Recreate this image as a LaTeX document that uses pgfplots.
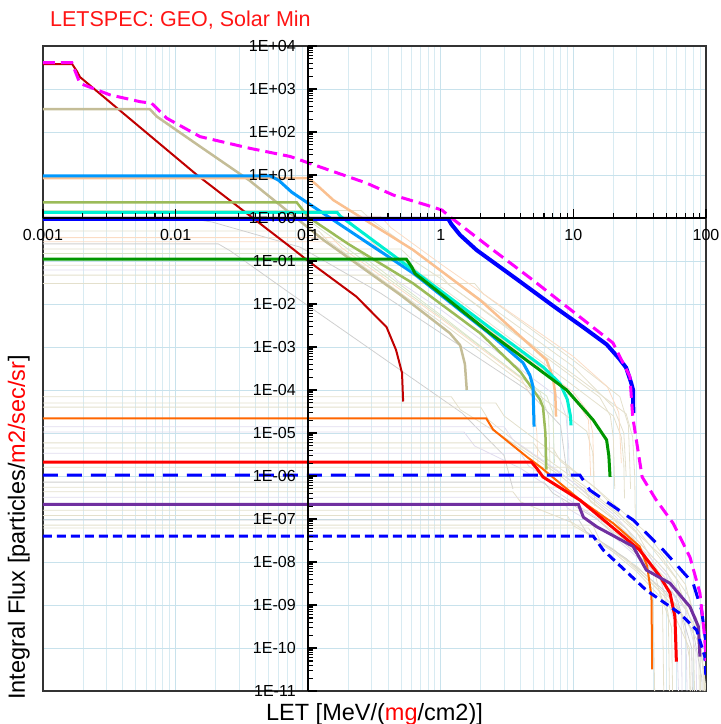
\documentclass[border=0pt]{standalone}
\usepackage{fontspec}
\setmainfont{Liberation Sans}
\usepackage{pgfplots}
\pgfplotsset{compat=1.18}

% grid and frame
\definecolor{gridblue}{RGB}{200,226,236}
\definecolor{gridbluelight}{RGB}{216,235,242}
% background spectra
\definecolor{ghbeige}{RGB}{228,224,204}
\definecolor{ghlav}{RGB}{224,220,238}
\definecolor{ghpeach}{RGB}{251,220,196}
\definecolor{ghgray}{RGB}{208,208,208}
\definecolor{gholive}{RGB}{218,228,200}
% highlighted spectra
\definecolor{cmag}{RGB}{255,0,255}
\definecolor{cblue}{RGB}{0,0,255}
\definecolor{cltblue}{RGB}{0,153,255}
\definecolor{ccyan}{RGB}{0,240,210}
\definecolor{cgreen}{RGB}{0,150,0}
\definecolor{colive}{RGB}{155,187,89}
\definecolor{ctan}{RGB}{196,189,151}
\definecolor{cpeach}{RGB}{250,192,144}
\definecolor{cdkred}{RGB}{192,0,0}
\definecolor{corange}{RGB}{255,102,0}
\definecolor{cred}{RGB}{255,0,0}
\definecolor{cpurple}{RGB}{112,48,160}
\definecolor{titlered}{RGB}{255,20,20}

\pgfplotsset{
  ghost/.style={line width=0.8pt},
}
% tick label helpers: x labels set lower, y labels kept clear of the axis
\newcommand{\xl}[1]{\rule{0pt}{19pt}#1}
\newcommand{\yl}[1]{#1\kern9pt}

\begin{document}
\begin{tikzpicture}
% ---------------- data layer: grid, frame, spectra ----------------
\begin{axis}[
  at={(0,0)}, anchor=south west,
  scale only axis, width=663pt, height=645pt,
  xmode=log, ymode=log,
  xmin=1e-3, xmax=100, ymin=1e-11, ymax=1e4,
  xtick={1e-3,1e-2,1e-1,1,10,100},
  minor xtick={0.002,0.003,0.004,0.005,0.006,0.007,0.008,0.009,
               0.02,0.03,0.04,0.05,0.06,0.07,0.08,0.09,
               0.2,0.3,0.4,0.5,0.6,0.7,0.8,0.9,
               2,3,4,5,6,7,8,9,20,30,40,50,60,70,80,90},
  ytick={1e-11,1e-10,1e-9,1e-8,1e-7,1e-6,1e-5,1e-4,1e-3,1e-2,1e-1,1,10,100,1000,10000},
  xticklabels={}, yticklabels={},
  major tick length=0pt, minor tick length=0pt,
  xmajorgrids, xminorgrids, ymajorgrids,
  major grid style={gridblue, line width=0.8pt},
  minor grid style={gridbluelight, line width=0.7pt},
  axis line style={black!80, line width=1.6pt},
]
\coordinate (BL) at (rel axis cs:0,0);
\coordinate (TR) at (rel axis cs:1,1);
\coordinate (TL) at (rel axis cs:0,1);
\coordinate (BC) at (rel axis cs:0.5,0);

% background spectra, upper group
\addplot[ghost, ghpeach] coordinates {(0.001,0.28)(0.3,0.28)(0.36,0.17)(1,0.018)(5,4.4e-4)(10,8.9e-5)(13,3e-5)(14,1e-5)(14.3,1e-6)};
\addplot[ghost, ghbeige] coordinates {(0.001,0.19)(0.5,0.19)(0.6,0.11)(1,0.039)(6.3,5.6e-4)(15.8,6.8e-5)(19,2.5e-5)(20,8e-6)(20.5,5e-7)};
\addplot[ghost, ghbeige] coordinates {(0.001,0.08)(0.6,0.08)(0.7,0.05)(1,0.025)(10,1.26e-4)(20,2.5e-5)(23,8e-6)(24,2e-6)(24.3,3e-7)};
\addplot[ghost, ghlav] coordinates {(0.001,0.062)(0.4,0.062)(0.47,0.035)(1,7.4e-3)(7.9,6.3e-5)(8.8,2.5e-5)(9.2,5e-6)(9.3,1e-6)};
\addplot[ghost, ghbeige] coordinates {(0.001,0.047)(1,0.047)(1.15,0.028)(10,2.3e-4)(25,2.8e-5)(28,8e-6)(29,1e-6)(29.3,1e-7)};
\addplot[ghost, ghpeach] coordinates {(0.001,0.35)(0.15,0.35)(0.18,0.2)(1,4.6e-3)(4,1.9e-4)(5,6e-5)(5.3,1e-5)(5.4,2e-6)};
\addplot[ghost, ghbeige] coordinates {(0.001,0.5)(0.12,0.5)(0.14,0.3)(1,3.8e-3)(10,1.9e-5)(12.6,1.1e-5)(14,3.5e-6)(14.5,2e-7)};
\addplot[ghost, gholive] coordinates {(0.001,1.3)(0.09,1.3)(0.1,0.9)(1,5e-3)(6.3,7.2e-5)(7,3e-5)(7.2,2e-6)};
\addplot[ghost, gholive] coordinates {(0.001,0.15)(0.25,0.15)(0.3,0.09)(1,5.5e-3)(3.16,3.5e-4)(5.6,8.7e-5)(6.5,2.5e-5)(6.7,1e-6)};
\addplot[ghost, ghpeach] coordinates {(0.001,0.9)(0.2,0.9)(0.24,0.55)(1,0.019)(10,7.4e-5)(13,2e-5)(13.5,1e-6)};
\addplot[ghost, ghbeige] coordinates {(0.001,0.03)(1.8,0.03)(2.1,0.017)(10,4.9e-4)(22.4,7e-5)(26,1.5e-5)(27,5e-7)};
\addplot[ghost, ghbeige] coordinates {(0.001,1.5)(0.25,1.5)(0.3,0.9)(1,0.06)(10,3.5e-4)(20,4e-5)(24,1e-5)(25,1e-6)};
\addplot[ghost, ghpeach] coordinates {(0.001,1.1)(0.35,1.1)(0.42,0.6)(1,0.085)(10,6e-4)(18,1.2e-4)(22,3e-5)(23,2e-6)};
\addplot[ghost, ghgray] coordinates {(0.001,0.25)(0.021,0.25)(0.026,0.17)(0.073,0.0178)(1.45,2.9e-5)(3,3e-6)(3.5,5e-7)};
\addplot[ghost, ghgray] coordinates {(0.001,0.9)(0.015,0.9)(0.019,0.8)(0.087,0.21)(0.35,0.018)(4.47,1e-4)(8,1.5e-5)(9,1e-6)};

% background spectra, lower group
\addplot[ghost, ghbeige] coordinates {(0.001,7e-5)(1.2,7e-5)(1.4,3.5e-5)(3,8e-6)(8,1e-6)(20,1e-7)(35,1.5e-8)(40,1e-9)(41,1e-11)};
\addplot[ghost, ghbeige] coordinates {(0.001,5e-5)(2.6,5e-5)(3,2.5e-5)(6,5e-6)(15,5e-7)(30,5e-8)(45,5e-9)(52,6e-10)(53,1e-11)};
\addplot[ghost, ghbeige] coordinates {(0.001,4e-5)(2.0,4e-5)(2.3,2e-5)(4,5e-6)(10,7e-7)(25,6e-8)(40,8e-9)(47,1e-9)(48,1e-11)};
\addplot[ghost, ghlav] coordinates {(0.001,1.4e-5)(3,1.4e-5)(3.5,7e-6)(8,1.2e-6)(20,1.3e-7)(50,6e-9)(70,8e-10)(72,1e-11)};
\addplot[ghost, ghlav] coordinates {(0.001,1.05e-5)(1.5,1.05e-5)(1.8,5e-6)(4,1.5e-6)(10,2.4e-7)(30,2.7e-8)(45,4e-9)(60,3e-10)(62,1e-11)};
\addplot[ghost, ghbeige] coordinates {(0.001,5.9e-6)(5,5.9e-6)(5.8,3e-6)(12,6e-7)(30,6e-8)(60,4e-9)(80,3e-10)(82,1e-11)};
\addplot[ghost, ghbeige] coordinates {(0.001,4.5e-6)(7,4.5e-6)(8,2.2e-6)(15,5e-7)(35,5e-8)(70,3e-9)(90,1.5e-10)(91,1e-11)};
\addplot[ghost, ghlav] coordinates {(0.001,3.4e-6)(4,3.4e-6)(4.6,1.7e-6)(10,3.5e-7)(25,5e-8)(50,5e-9)(65,6e-10)(66,1e-11)};
\addplot[ghost, ghbeige] coordinates {(0.001,1.6e-6)(9,1.6e-6)(10,8e-7)(20,1.5e-7)(45,1.5e-8)(75,1.5e-9)(88,2e-10)(89,1e-11)};
\addplot[ghost, ghgray] coordinates {(0.001,7.2e-7)(6,7.2e-7)(7,4e-7)(15,1e-7)(35,1e-8)(60,1.5e-9)(78,1e-10)(79,1e-11)};
\addplot[ghost, ghbeige] coordinates {(0.001,5.5e-7)(12,5.5e-7)(13.5,2.5e-7)(25,6e-8)(50,6e-9)(85,5e-10)(95,3e-11)(95.5,1e-11)};
\addplot[ghost, ghbeige] coordinates {(0.001,4.3e-7)(3.5,4.3e-7)(4,2.5e-7)(10,8e-8)(25,1.2e-8)(45,2e-9)(55,3e-10)(56,1e-11)};
\addplot[ghost, ghlav] coordinates {(0.001,3.2e-7)(8,3.2e-7)(9,1.8e-7)(20,4e-8)(40,6e-9)(70,8e-10)(84,8e-11)(85,1e-11)};
\addplot[ghost, ghbeige] coordinates {(0.001,1.6e-7)(15,1.6e-7)(16.5,8e-8)(30,2e-8)(55,3e-9)(90,2e-10)(97,2e-11)(97.5,1e-11)};
\addplot[ghost, ghbeige] coordinates {(0.001,1.2e-7)(9,1.2e-7)(10,7e-8)(20,2e-8)(40,3e-9)(65,6e-10)(75,6e-11)(76,1e-11)};
\addplot[ghost, ghgray] coordinates {(0.001,9.5e-8)(11,9.5e-8)(12.5,5e-8)(25,1.2e-8)(50,2e-9)(80,2.5e-10)(93,2e-11)(93.5,1e-11)};
\addplot[ghost, ghbeige] coordinates {(0.001,7.2e-8)(14,7.2e-8)(16,3e-8)(30,6e-9)(55,8e-10)(75,1e-10)(76,1e-11)};
\addplot[ghost, ghbeige] coordinates {(0.001,6.2e-8)(13,6.2e-8)(15,3e-8)(30,8e-9)(60,1e-9)(90,1.2e-10)(99,1.5e-11)(99.5,1e-11)};

% highlighted spectra
\addplot[cdkred, line width=2pt] coordinates {(0.001,3800)(0.00166,3800)(0.0018,2600)(0.0019,1900)(0.0145,10)(0.073,0.215)(0.1,0.1)(0.23,0.015)(0.39,2.9e-3)(0.46,8.5e-4)(0.51,2.5e-4)(0.52,5.4e-5)};
\addplot[ctan, line width=2.5pt] coordinates {(0.001,339)(0.0064,339)(0.0072,230)(0.0153,46)(0.036,7.5)(0.13,0.31)(0.5,0.016)(1.17,2.1e-3)(1.4,1.1e-3)(1.52,4e-4)(1.57,1e-4)};
\addplot[colive, line width=2.5pt] coordinates {(0.001,2.3)(0.082,2.3)(0.09,1.6)(0.1,1.05)(0.2,0.25)(0.62,0.03)(1.98,2.1e-3)(4,2.6e-4)(5.6,6e-5)(5.9,4e-5)(6.15,1e-5)(6.25,1.4e-6)};
\addplot[cpeach, line width=2.5pt] coordinates {(0.001,8.5)(0.1,8.5)(0.115,6)(0.155,2.6)(0.62,0.18)(2.0,0.012)(6.27,5e-4)(7.0,2e-4)(7.3,8e-5)(7.4,2.4e-5)};
\addplot[cltblue, line width=3pt] coordinates {(0.001,9.5)(0.052,9.5)(0.06,7.5)(0.075,4.0)(0.1,2.2)(0.3,0.23)(0.62,0.052)(2.35,2.0e-3)(4.17,4.3e-4)(4.7,2.2e-4)(4.96,1.2e-4)(5.05,1.4e-5)};
\addplot[ccyan, line width=3pt] coordinates {(0.001,1.36)(0.165,1.36)(0.175,1.1)(0.5,0.1)(2.35,2.8e-3)(6,3.3e-4)(7.95,1.4e-4)(9.0,6e-5)(9.5,2.5e-5)(9.6,1.5e-5)};
\addplot[cgreen, line width=3pt] coordinates {(0.001,0.11)(0.55,0.11)(0.6,0.075)(0.64,0.051)(0.99,0.0178)(2.35,2.1e-3)(8.9,1e-4)(14.1,2e-5)(17.8,6.9e-6)(18.5,3e-6)(18.9,9.5e-7)};
\addplot[corange, line width=2pt] coordinates {(0.001,2.2e-5)(2.2,2.2e-5)(2.48,1.2e-5)(3.1,6.9e-6)(4.45,2.8e-6)(5.6,1.65e-6)(11.2,2.8e-7)(20,7.9e-8)(31.6,2.3e-8)(36,8e-9)(38.8,1.6e-9)(39.3,3.2e-11)};
\addplot[cred, line width=3pt] coordinates {(0.001,2.1e-6)(4.84,2.1e-6)(5.3,1.5e-6)(5.9,9.5e-7)(11.2,2.75e-7)(31.6,1.9e-8)(45,4.6e-9)(53.5,1.9e-9)(58.3,5.4e-10)(59.8,4.8e-11)};
\addplot[cpurple, line width=3pt] coordinates {(0.001,2.2e-7)(10.9,2.2e-7)(11.9,1.1e-7)(15,6.6e-8)(28.2,2.3e-8)(35.5,6.5e-9)(53.5,3.2e-9)(75.7,9.1e-10)(87.5,3.2e-10)(90,6.3e-11)};
\addplot[cblue, line width=3pt, dash pattern=on 15pt off 9pt] coordinates {(0.001,1.05e-6)(11.2,1.05e-6)(13.3,4.7e-7)(28.2,9.5e-8)(47.6,1.9e-8)(80,3.2e-9)(92.7,7.5e-10)(100,1.25e-10)};
\addplot[cblue, line width=3pt, dash pattern=on 9pt off 5pt] coordinates {(0.001,4e-8)(14.1,4e-8)(16.8,1.9e-8)(35.5,2.2e-9)(63,6.5e-10)(85,2.6e-10)(98,6.3e-11)(100,2e-11)};
\addplot[cblue, line width=4pt] coordinates {(0.001,0.95)(1.14,0.95)(1.2,0.72)(1.4,0.40)(1.86,0.18)(3.73,0.038)(7.05,0.009)(12,2.8e-3)(17.8,1.15e-3)(22,5.5e-4)(25,3.3e-4)(27.2,1.5e-4)(28.2,1e-4)(28.3,2.9e-5)};
\addplot[cmag, line width=3pt, dash pattern=on 12pt off 6pt] coordinates {(0.001,4100)(0.00165,4100)(0.0019,1350)(0.0032,730)(0.0054,507)(0.0066,465)(0.0086,208)(0.0153,78)(0.036,42)(0.073,27)(0.103,18.6)(0.275,6.5)(0.44,3.4)(0.78,2.0)(1.02,1.53)(1.17,1.07)(2.48,0.18)(4.95,0.036)(8.9,0.0087)(19.9,1.24e-3)(26.7,2.04e-4)(28,2.4e-5)(33,9.5e-7)(42,2.8e-7)(56.6,7.9e-8)(75.7,1.3e-8)(90,1.9e-9)(97.7,1.8e-10)(100,5e-11)};
\end{axis}

% ---------------- crossing axes through LET = 0.1 and flux = 1 ----------------
\begin{axis}[
  at={(0,0)}, anchor=south west,
  scale only axis, width=663pt, height=645pt,
  xmode=log, ymode=log,
  xmin=1e-2, xmax=1000, ymin=1e-11, ymax=1e4,
  axis lines*=middle,
  axis line style={black, line width=1.4pt},
  hide obscured x ticks=false, hide obscured y ticks=false,
  xtick={1e-2,1e-1,1,10,100,1000},
  xticklabels={\xl{0.001},\xl{0.01},\xl{0.1},\xl{1},\xl{10},\xl{100}},
  minor xtick={0.02,0.03,0.04,0.05,0.06,0.07,0.08,0.09,
               0.2,0.3,0.4,0.5,0.6,0.7,0.8,0.9,
               2,3,4,5,6,7,8,9,20,30,40,50,60,70,80,90,
               200,300,400,500,600,700,800,900},
  ytick={1e-11,1e-10,1e-9,1e-8,1e-7,1e-6,1e-5,1e-4,1e-3,1e-2,1e-1,1,10,100,1000,10000},
  yticklabels={\yl{1E-11},\yl{1E-10},\yl{1E-09},\yl{1E-08},\yl{1E-07},\yl{1E-06},\yl{1E-05},\yl{1E-04},
               \yl{1E-03},\yl{1E-02},\yl{1E-01},\yl{1E+00},\yl{1E+01},\yl{1E+02},\yl{1E+03},\yl{1E+04}},
  minor ytick={2e-11,3e-11,4e-11,5e-11,6e-11,7e-11,8e-11,9e-11,
               2e-10,3e-10,4e-10,5e-10,6e-10,7e-10,8e-10,9e-10,
               2e-9,3e-9,4e-9,5e-9,6e-9,7e-9,8e-9,9e-9,
               2e-8,3e-8,4e-8,5e-8,6e-8,7e-8,8e-8,9e-8,
               2e-7,3e-7,4e-7,5e-7,6e-7,7e-7,8e-7,9e-7,
               2e-6,3e-6,4e-6,5e-6,6e-6,7e-6,8e-6,9e-6,
               2e-5,3e-5,4e-5,5e-5,6e-5,7e-5,8e-5,9e-5,
               2e-4,3e-4,4e-4,5e-4,6e-4,7e-4,8e-4,9e-4,
               2e-3,3e-3,4e-3,5e-3,6e-3,7e-3,8e-3,9e-3,
               0.02,0.03,0.04,0.05,0.06,0.07,0.08,0.09,
               0.2,0.3,0.4,0.5,0.6,0.7,0.8,0.9,
               2,3,4,5,6,7,8,9,20,30,40,50,60,70,80,90,
               200,300,400,500,600,700,800,900,
               2000,3000,4000,5000,6000,7000,8000,9000},
  tick align=inside,
  major tick length=9pt, minor tick length=5pt,
  tick style={black, line width=1.1pt},
  tick label style={font=\fontsize{16}{16}\selectfont},
  clip=false,
]
\end{axis}

% ---------------- title and axis titles ----------------
\node[anchor=base west, text=titlered, font=\fontsize{21.5}{21.5}\selectfont, inner sep=0pt]
  at ([shift={(7pt,19pt)}]TL) {LETSPEC: GEO, Solar Min};
\node[anchor=base, font=\fontsize{23.5}{23.5}\selectfont, inner sep=0pt]
  at ([yshift=-29pt]BC) {LET [MeV/(\textcolor{red}{mg}/cm2)]};
\node[rotate=90, anchor=base west, font=\fontsize{23.5}{23.5}\selectfont, inner sep=0pt]
  at ([shift={(-18pt,-9pt)}]BL) {Integral Flux [particles/\textcolor{red}{m2/sec/sr}]};

\pgfresetboundingbox
\path[use as bounding box] ([shift={(-43pt,-33pt)}]BL) rectangle ([shift={(15pt,46pt)}]TR);
\end{tikzpicture}
\end{document}
